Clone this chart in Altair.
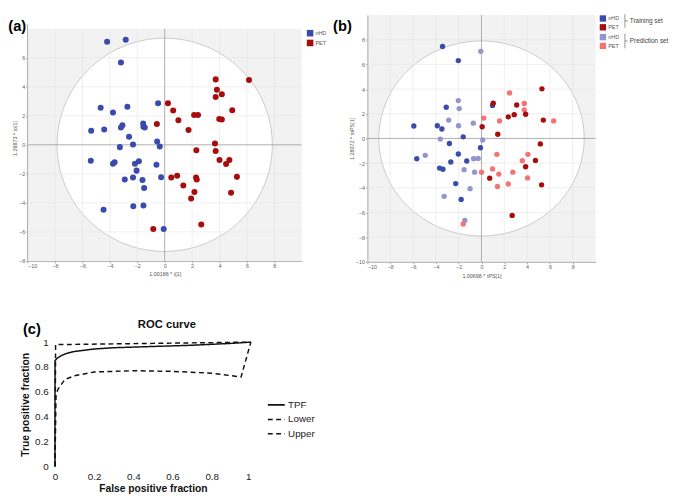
import altair as alt
import pandas as pd
import numpy as np

FONT = "Liberation Sans"

# ---------------- Panel (a) scores ----------------
a_nhd_x = [-4.2, -2.84, -3.19, -4.67, -3.77, -2.72, -0.48, -5.36, -4.41, -3.08, -3.19, -1.57, -1.55, -1.45,
           -2.6, -2.31, -3.27, -0.55, -0.36, -5.39, -3.65, -3.77, -1.88, -2.17, -2.05, -0.6, -2.91, -2.31,
           -1.62, -0.26, -1.5, -4.46, -2.29, -1.55, -0.07]
a_nhd_y = [7.11, 7.25, 5.67, 2.55, 2.23, 2.62, 2.87, 0.97, 1.06, 1.35, 1.2, 1.47, 1.24, 1.2,
           0.56, 0.02, -0.16, 0.23, -0.11, -1.1, -1.2, -1.31, -1.13, -1.31, -1.78, -1.38, -2.39, -2.26,
           -2.42, -2.23, -2.98, -4.47, -4.24, -4.18, -5.8]
a_pet_x = [0.24, 0.62, 1.0, -0.57, 1.74, 2.15, 2.43, 3.72, 3.81, 3.72, 4.17, 6.15, 3.98, 4.17, 4.93, 3.67,
           2.31, 3.72, 4.0, 4.72, 4.48, 5.27, 0.48, 0.91, 2.29, 2.34, 1.36, 2.17, 4.84, 1.93, 2.67, -0.83]
a_pet_y = [2.87, 2.37, 1.69, 1.44, 1.02, 2.05, 2.05, 4.51, 3.79, 3.3, 3.48, 4.47, 1.78, 1.74, 2.39, 0.09,
           -0.38, -0.43, -1.04, -1.04, -1.33, -2.21, -2.26, -2.14, -2.26, -2.39, -2.8, -3.25, -3.3, -3.7, -5.49, -5.8]

# ---------------- Panel (b) scores ----------------
b_tr_nhd_x = [-3.41, -2.03, -3.09, -5.93, -3.87, -3.47, -1.6, -2.81, -0.09, -2.03, -5.67, -2.69, -1.29,
              -3.67, -3.38, -2.26, -1.78, 0.97]
b_tr_nhd_y = [7.45, 6.31, 2.53, 1.01, 1.03, 0.77, 0.13, -0.41, -0.75, -1.26, -1.65, -1.91, -1.83,
              -2.4, -2.5, -3.66, -4.95, 2.68]
b_pr_nhd_x = [-0.06, -2.03, -1.95, -2.87, -2.01, -0.72, -3.61, 0.11, -4.93, -0.69, -0.29, -1.52, -0.6,
              -1.0, -3.27, -1.46]
b_pr_nhd_y = [7.06, 3.07, 2.42, 1.49, 1.03, 1.24, -0.05, -0.13, -1.37, -1.65, -1.62, -2.53, -2.73,
              -4.07, -4.69, -6.65]
b_tr_pet_x = [1.03, 3.09, 2.35, 2.87, 3.87, 5.3, 5.42, 0.06, 1.43, 5.16, 4.73, 3.87, 5.27, 0.72, 2.69]
b_tr_pet_y = [2.86, 2.71, 1.75, 1.93, 1.96, 4.02, 1.49, 0.95, 0.34, -0.44, -1.78, -2.29, -3.76, -3.22, -6.24]
b_pr_pet_x = [2.46, 3.75, 3.75, 0.2, 1.58, 6.33, 1.35, 4.07, 3.58, 0.97, 0.0, 2.75, 1.52, 4.04, 2.35, 1.4, -1.6]
b_pr_pet_y = [3.69, 2.84, 2.32, 1.65, 1.42, 1.42, -1.29, -1.29, -1.8, -2.47, -2.73, -2.73, -2.89, -3.2,
              -3.69, -3.89, -6.93]

# ---------------- Panel (c) ROC ----------------
tpf_fpr = [0, 0, 0.01, 0.03, 0.06, 0.1, 0.2, 0.3, 0.5, 0.7, 0.9, 1.0]
tpf_tpf = [0, 0.85, 0.87, 0.89, 0.91, 0.925, 0.945, 0.955, 0.965, 0.975, 0.99, 1.0]
low_fpr = [0, 0.005, 0.015, 0.05, 0.1, 0.2, 0.4, 0.6, 0.8, 0.95, 1.0]
low_tpf = [0, 0.57, 0.62, 0.7, 0.73, 0.76, 0.77, 0.765, 0.75, 0.72, 1.0]
up_fpr = [0, 0.003, 0.5, 1.0]
up_tpf = [0, 0.98, 0.99, 1.0]

axis_ticks_ab = list(range(-10, 9, 2))
a_yticks = list(range(-8, 7, 2))
roc_ticks = [0, 0.2, 0.4, 0.6, 0.8, 1.0]

BLUE = "#3b4bab"
RED = "#a80d0d"
LBLUE = "#9495cb"
LRED = "#f37474"
GRID = "#e3e3e3"
ZERO = "#a5a5a5"
BG = "#f2f2f2"


def ellipse_df(rx, ry):
    t = np.linspace(np.pi, 0, 181)
    return pd.DataFrame({"x": rx * np.cos(t), "y": ry * np.sin(t), "y2": -ry * np.sin(t)})


def ax_common(**kw):
    d = dict(labelFont=FONT, labelFontSize=5.5, labelColor="#666", titleFont=FONT,
             titleFontSize=5.5, titleColor="#555", titleFontWeight="normal",
             domainColor="#aaa", tickColor="#aaa", tickSize=2, grid=False, labelPadding=1,
             labelOverlap=False, tickCount=10)
    d.update(kw)
    return d


one = pd.DataFrame({"k": [0]})

# ================= Panel A =================
WA, HA = 280, 251
PXA = 237 / 16.0
xsA = alt.Scale(domain=[-10, 10], nice=False, zero=False)
ysA = alt.Scale(domain=[-8, 8 + 14 / PXA], nice=False, zero=False)
axXA = alt.Axis(values=axis_ticks_ab, title="1.00186 * t[1]", **ax_common(titlePadding=2))
axYA = alt.Axis(values=a_yticks, title="1.26873 * to[1]", **ax_common(titlePadding=1, domain=False))


def XA(f):
    return alt.X(f, scale=xsA, axis=axXA)


def YA(f):
    return alt.Y(f, scale=ysA, axis=axYA)


bgA = alt.Chart(pd.DataFrame({"x": [-10], "x2": [10], "y": [-8], "y2": [8]})).mark_rect(color=BG).encode(
    x=XA("x:Q"), x2="x2:Q", y=YA("y:Q"), y2="y2:Q")
ellA = alt.Chart(ellipse_df(7.85, 7.35)).mark_area(fill="white", stroke="#bdbdbd", strokeWidth=0.8).encode(
    x=XA("x:Q"), y=YA("y:Q"), y2="y2:Q")
gxA = alt.Chart(pd.DataFrame({"v": [-8, -6, -4, -2, 2, 4, 6, 8], "lo": -8, "hi": 8})).mark_rule(
    color=GRID, strokeWidth=0.6).encode(x=XA("v:Q"), y=YA("lo:Q"), y2="hi:Q")
gyA = alt.Chart(pd.DataFrame({"v": [-6, -4, -2, 2, 4, 6], "lo": -10, "hi": 10})).mark_rule(
    color=GRID, strokeWidth=0.6).encode(y=YA("v:Q"), x=XA("lo:Q"), x2="hi:Q")
zA = pd.DataFrame({"v": [0], "lo": [-8], "hi": [8], "l2": [-10], "h2": [10]})
zxA = alt.Chart(zA).mark_rule(color=ZERO, strokeWidth=0.9).encode(x=XA("v:Q"), y=YA("lo:Q"), y2="hi:Q")
zyA = alt.Chart(zA).mark_rule(color=ZERO, strokeWidth=0.9).encode(y=YA("v:Q"), x=XA("l2:Q"), x2="h2:Q")
axA = alt.Chart(pd.DataFrame({"v": [-10], "lo": [-8], "hi": [8.3]})).mark_rule(
    color="#aaa", strokeWidth=1).encode(x=XA("v:Q"), y=YA("lo:Q"), y2="hi:Q")
dfA = pd.DataFrame({
    "x": a_nhd_x + a_pet_x,
    "y": a_nhd_y + a_pet_y,
    "grp": ["nHD"] * len(a_nhd_x) + ["PET"] * len(a_pet_x),
})
ptsA = alt.Chart(dfA).mark_circle(size=38, opacity=1).encode(
    x=XA("x:Q"), y=YA("y:Q"),
    color=alt.Color("grp:N", scale=alt.Scale(domain=["nHD", "PET"], range=[BLUE, RED]),
                    legend=alt.Legend(orient="none", legendX=285, legendY=15, title=None, symbolType="square",
                                      symbolSize=45, labelFont=FONT, labelFontSize=5.5, labelColor="#555",
                                      padding=0, rowPadding=3, labelOffset=2, symbolStrokeWidth=0)),
)
labA = alt.Chart(one).mark_text(text="(a)", font=FONT, fontSize=15, fontWeight="bold", align="left",
                                baseline="middle", color="black").encode(x=alt.value(-19.7), y=alt.value(11))
panelA = alt.layer(bgA, ellA, gxA, gyA, zxA, zyA, axA, ptsA, labA).properties(
    width=WA, height=HA, view=alt.ViewBackground(strokeWidth=0))

# ================= Panel B =================
WB, HB = 233, 252
xsB = alt.Scale(domain=[-10, 10], nice=False, zero=False)
ysB = alt.Scale(domain=[-10, 10], nice=False, zero=False)
axXB = alt.Axis(values=axis_ticks_ab, title="1.00698 * tPS[1]", **ax_common(titlePadding=3))
axYB = alt.Axis(values=axis_ticks_ab, title="1.28072 * toPS[1]", **ax_common(titlePadding=1))


def XB(f):
    return alt.X(f, scale=xsB, axis=axXB)


def YB(f):
    return alt.Y(f, scale=ysB, axis=axYB)


ellB = alt.Chart(ellipse_df(9.0, 7.9)).mark_area(fill="white", stroke="#bdbdbd", strokeWidth=0.8).encode(
    x=XB("x:Q"), y=YB("y:Q"), y2="y2:Q")
gxB = alt.Chart(pd.DataFrame({"v": [-8, -6, -4, -2, 2, 4, 6, 8]})).mark_rule(
    color=GRID, strokeWidth=0.6).encode(x=XB("v:Q"))
gyB = alt.Chart(pd.DataFrame({"v": [-8, -6, -4, -2, 2, 4, 6, 8]})).mark_rule(
    color=GRID, strokeWidth=0.6).encode(y=YB("v:Q"))
zB = pd.DataFrame({"v": [0]})
zxB = alt.Chart(zB).mark_rule(color=ZERO, strokeWidth=0.9).encode(x=XB("v:Q"))
zyB = alt.Chart(zB).mark_rule(color=ZERO, strokeWidth=0.9).encode(y=YB("v:Q"))
dfB1 = pd.DataFrame({
    "x": b_tr_nhd_x + b_tr_pet_x,
    "y": b_tr_nhd_y + b_tr_pet_y,
    "grp": ["nHD"] * len(b_tr_nhd_x) + ["PET"] * len(b_tr_pet_x),
})
dfB2 = pd.DataFrame({
    "x": b_pr_nhd_x + b_pr_pet_x,
    "y": b_pr_nhd_y + b_pr_pet_y,
    "grp2": ["nHD"] * len(b_pr_nhd_x) + ["PET"] * len(b_pr_pet_x),
})
leg_common = dict(orient="none", title=None, symbolType="square", symbolSize=42, labelFont=FONT,
                  labelFontSize=5.5, labelColor="#555", padding=0, rowPadding=2, labelOffset=2,
                  symbolStrokeWidth=0)
ptsB2 = alt.Chart(dfB2).mark_circle(size=30, opacity=1).encode(
    x=XB("x:Q"), y=YB("y:Q"),
    fill=alt.Fill("grp2:N", scale=alt.Scale(domain=["nHD", "PET"], range=[LBLUE, LRED]),
                  legend=alt.Legend(legendX=237, legendY=19, **leg_common)),
)
ptsB1 = alt.Chart(dfB1).mark_circle(size=30, opacity=1).encode(
    x=XB("x:Q"), y=YB("y:Q"),
    color=alt.Color("grp:N", scale=alt.Scale(domain=["nHD", "PET"], range=[BLUE, RED]),
                    legend=alt.Legend(legendX=237, legendY=0, **leg_common)),
)
br_style = dict(color="#666", strokeWidth=0.7)
brackets = [
    alt.Chart(one).mark_rule(**br_style).encode(x=alt.value(263), y=alt.value(-1), y2=alt.value(13)),
    alt.Chart(one).mark_rule(**br_style).encode(x=alt.value(263), x2=alt.value(266), y=alt.value(6)),
    alt.Chart(one).mark_rule(**br_style).encode(x=alt.value(263), y=alt.value(19), y2=alt.value(34)),
    alt.Chart(one).mark_rule(**br_style).encode(x=alt.value(263), x2=alt.value(266), y=alt.value(26.5)),
    alt.Chart(one).mark_text(text="Training set", font=FONT, fontSize=6.5, color="#444", align="left",
                             baseline="middle").encode(x=alt.value(268), y=alt.value(6)),
    alt.Chart(one).mark_text(text="Prediction set", font=FONT, fontSize=6.5, color="#444", align="left",
                             baseline="middle").encode(x=alt.value(268), y=alt.value(26.5)),
]
labB = alt.Chart(one).mark_text(text="(b)", font=FONT, fontSize=15, fontWeight="bold", align="left",
                                baseline="middle", color="black").encode(x=alt.value(-35), y=alt.value(11))
panelB = alt.layer(ellB, gxB, gyB, zxB, zyB, ptsB2, ptsB1, *brackets, labB).properties(
    width=WB, height=HB, view=alt.ViewBackground(fill=BG, strokeWidth=0)
).resolve_legend(color="independent", fill="independent")

# ================= Panel C =================
WC, HC = 228, 127
XOFF = 28 / 200.0
dfC = pd.DataFrame({
    "fpr": tpf_fpr + low_fpr + up_fpr,
    "tpf": tpf_tpf + low_tpf + up_tpf,
    "series": ["TPF"] * len(tpf_fpr) + ["Lower"] * len(low_fpr) + ["Upper"] * len(up_fpr),
    "idx": list(range(len(tpf_fpr))) + list(range(len(low_fpr))) + list(range(len(up_fpr))),
})
xsC = alt.Scale(domain=[-XOFF, 1], nice=False, zero=False)
ysC = alt.Scale(domain=[0, 1], nice=False)
axC = dict(labelFont=FONT, labelFontSize=10, labelColor="#222", titleFont=FONT, titleFontSize=10.5,
           titleFontWeight="bold", titleColor="#111", domain=False, ticks=False, grid=False, format="~g",
           labelOverlap=False)
dash_scale = alt.Scale(domain=["TPF", "Lower", "Upper"], range=[[1, 0], [5, 3.5], [5, 3.5]])
lines = alt.Chart(dfC).mark_line(color="#111", strokeWidth=1.5).encode(
    x=alt.X("fpr:Q", scale=xsC, axis=alt.Axis(values=roc_ticks, title="False positive fraction",
                                             labelPadding=5, titlePadding=3, titleX=128, **axC)),
    y=alt.Y("tpf:Q", scale=ysC, axis=alt.Axis(values=roc_ticks, title="True positive fraction",
                                             labelPadding=7, titlePadding=4, offset=-28, **axC)),
    strokeDash=alt.StrokeDash("series:N", scale=dash_scale,
                              legend=alt.Legend(orient="none", legendX=244, legendY=54, title=None,
                                                symbolType="stroke", symbolSize=300, symbolStrokeColor="#111",
                                                symbolStrokeWidth=1.6, labelFont=FONT, labelFontSize=10,
                                                labelColor="#222", padding=0, rowPadding=0, labelOffset=2)),
    strokeWidth=alt.StrokeWidth("series:N", scale=alt.Scale(domain=["TPF", "Lower", "Upper"],
                                                            range=[1.9, 1.5, 1.5]), legend=None),
    detail="series:N",
    order="idx:Q",
)
labC = alt.Chart(one).mark_text(text="(c)", font=FONT, fontSize=15, fontWeight="bold", align="left",
                                baseline="middle", color="black").encode(x=alt.value(-4.7), y=alt.value(-13))
titleC = alt.Chart(one).mark_text(text="ROC curve", font=FONT, fontSize=11.5, fontWeight="bold",
                                  align="center", baseline="middle", color="#111").encode(
    x=alt.value(142.3), y=alt.value(-17))
panelC = alt.layer(lines, labC, titleC).properties(
    width=WC, height=HC, view=alt.ViewBackground(strokeWidth=0))

chart = alt.concat(panelA, panelB, panelC, columns=2, bounds="flush",
                   spacing={"row": 82, "column": 67}).resolve_scale(
    color="independent", fill="independent", x="independent", y="independent",
    strokeDash="independent", strokeWidth="independent"
).resolve_legend(color="independent", fill="independent", strokeDash="independent").properties(
    padding=0, background="white")

chart.save("out.html", embed_options={"renderer": "svg", "actions": False})
